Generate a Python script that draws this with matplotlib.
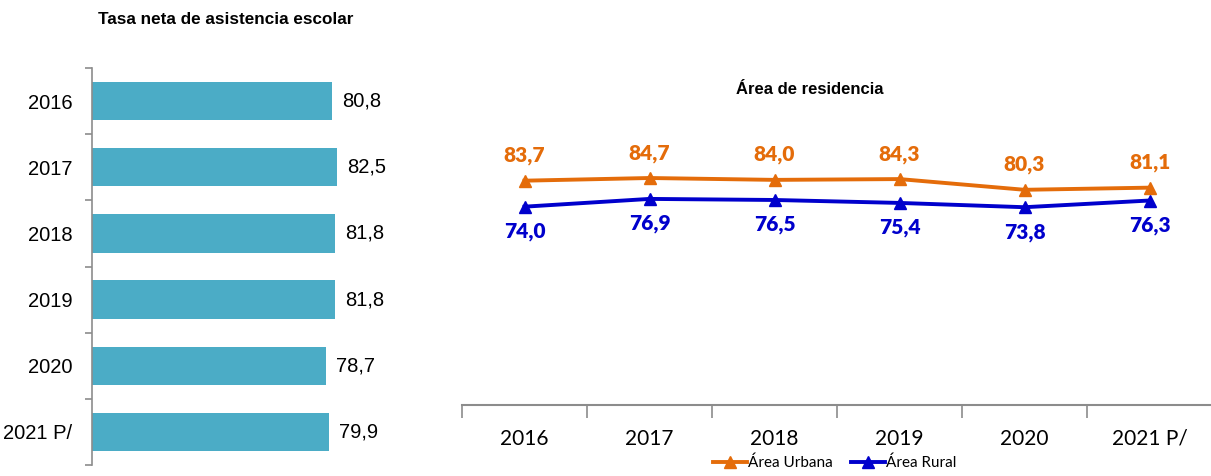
import matplotlib.pyplot as plt
import numpy as np

years = ['2016', '2017', '2018', '2019', '2020', '2021 P/']
tasa_neta = [80.8, 82.5, 81.8, 81.8, 78.7, 79.9]
urbana = [83.7, 84.7, 84.0, 84.3, 80.3, 81.1]
rural = [74.0, 76.9, 76.5, 75.4, 73.8, 76.3]

bar_color = '#4BACC6'
orange = '#E46C0A'
blue = '#0000CC'
grey = '#8C8C8C'
sans = ['Liberation Sans', 'DejaVu Sans']
calib = ['Lato', 'DejaVu Sans']

fig = plt.figure(figsize=(12.11, 4.76), dpi=100)

# Left: bar chart
ax1 = fig.add_axes([92 / 1211, 1 - 465 / 476, 297 / 1211, 397 / 476])
ypos = np.arange(len(years))
ax1.barh(ypos, tasa_neta, height=0.58, color=bar_color)
ax1.set_xlim(0, 100)
ax1.set_ylim(len(years) - 0.5, -0.5)
ax1.set_yticks(ypos)
ax1.set_yticklabels(years, fontsize=14.5, family=sans)
ax1.set_yticks(np.arange(-0.5, len(years)), minor=True)
ax1.tick_params(axis='y', which='major', length=0, pad=14)
ax1.tick_params(axis='y', which='minor', length=5, color=grey, width=1.2)
ax1.set_xticks([])
for s in ['top', 'right', 'bottom']:
    ax1.spines[s].set_visible(False)
ax1.spines['left'].set_color(grey)
ax1.spines['left'].set_linewidth(1.2)
for y, v in zip(ypos, tasa_neta):
    ax1.text(v + 3.3, y, f'{v:.1f}'.replace('.', ','), va='center', ha='left',
             fontsize=14.5, family=sans)
fig.text(226 / 1211, 1 - 20 / 476, 'Tasa neta de asistencia escolar', ha='center',
         va='center', fontsize=12.3, fontweight='bold', family=sans)

# Right: line chart
ax2 = fig.add_axes([462 / 1211, 1 - 405 / 476, 750 / 1211, 268 / 476])
xpos = np.arange(len(years))
ax2.plot(xpos, urbana, color=orange, lw=2.8, marker='^', ms=9, label='Área Urbana')
ax2.plot(xpos, rural, color=blue, lw=2.8, marker='^', ms=9, label='Área Rural')
ax2.set_xlim(-0.5, len(years) - 0.5)
ax2.set_ylim(0, 100)
ax2.set_yticks([])
ax2.set_xticks(xpos)
ax2.set_xticklabels(years, fontsize=15, family=calib)
ax2.set_xticks(np.arange(-0.5, len(years)), minor=True)
ax2.tick_params(axis='x', which='major', length=0, pad=17)
ax2.tick_params(axis='x', which='minor', length=9, color=grey, width=1.2)
for s in ['top', 'right', 'left']:
    ax2.spines[s].set_visible(False)
ax2.spines['bottom'].set_color(grey)
ax2.spines['bottom'].set_linewidth(1.5)
for x, u, r in zip(xpos, urbana, rural):
    ax2.annotate(f'{u:.1f}'.replace('.', ','), (x, u), xytext=(0, 18),
                 textcoords='offset points', ha='center', va='center',
                 color=orange, fontsize=15, fontweight='heavy', family=calib)
    ax2.annotate(f'{r:.1f}'.replace('.', ','), (x, r), xytext=(0, -18),
                 textcoords='offset points', ha='center', va='center',
                 color=blue, fontsize=15, fontweight='heavy', family=calib)
fig.text(810 / 1211, 1 - 90 / 476, 'Área de residencia', ha='center', va='center',
         fontsize=12, fontweight='bold', family=sans)
fig.legend(loc='center', bbox_to_anchor=(835 / 1211, 1 - 463 / 476), ncol=2,
           frameon=False, handlelength=2.2, handletextpad=0.1,
           columnspacing=1.2, prop={'family': calib, 'size': 11})

fig.savefig('out.png', dpi=100)
